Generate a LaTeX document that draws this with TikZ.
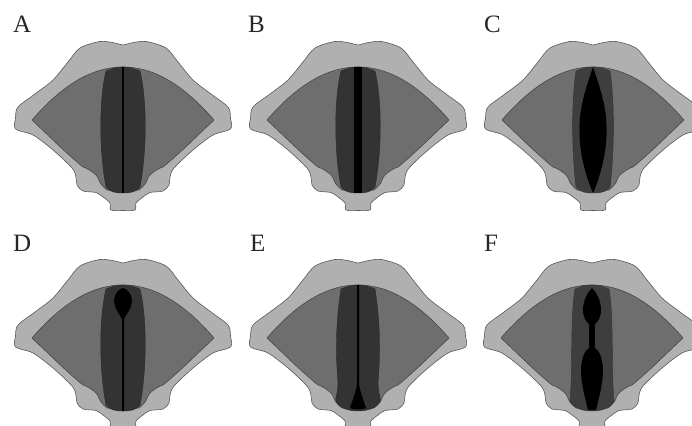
\documentclass[tikz,border=0pt]{standalone}
\usepackage{fontspec}
\setmainfont{Liberation Serif}
\definecolor{outerc}{HTML}{B0B0B0}
\definecolor{wedgec}{HTML}{6E6E6E}
\definecolor{foldc}{HTML}{333333}
\definecolor{foldl}{HTML}{3E3E3E}
\definecolor{linec}{HTML}{5A5A5A}
\tikzset{
  outerpart/.style={fill=outerc,draw=linec,line width=0.6pt},
  wedgepart/.style={fill=wedgec,draw=linec!80!black,line width=0.6pt},
  foldpart/.style={fill=foldc,draw=foldc!80!black,line width=0.4pt},
  foldlight/.style={fill=foldl,draw=foldc,line width=0.4pt},
  gap/.style={fill=black,draw=none},
  letter/.style={anchor=base west,inner sep=0pt,font=\fontsize{25}{25}\selectfont,text=black!85}
}
% #1,#2 shift, #3 contents
\newcommand{\larynx}[3]{%
\begin{scope}[shift={(#1,#2)}]
\draw[outerpart] plot[smooth cycle,tension=0.5] coordinates {
 (0,45) (-8,43) (-23,41.5) (-43,48) (-55,62) (-70,80) (-88,94) (-105,107) (-107.5,118) (-107.5,129)
 (-90,135) (-70,150) (-51,168) (-47,177) (-46,185) (-40,191) (-27,192.5) (-20,197) (-13,203) (-12,210) (0,210.5)
 (12,210) (13,203) (20,197) (27,192.5) (40,191) (46,185) (47,177) (51,168) (70,150) (90,135) (107.5,129) (107.5,118)
 (105,107) (88,94) (70,80) (55,62) (43,48) (23,41.5) (8,43)};
\draw[wedgepart,line join=round] (-91,120) .. controls (-65,90) and (-35,67) .. (0,67)
 .. controls (35,67) and (65,90) .. (91,120)
 .. controls (75,135) and (55,155) .. (40,167)
 .. controls (36,168) and (30,172) .. (27,175)
 .. controls (24,178) and (24,182) .. (22,184)
 .. controls (20,187) and (18,188) .. (16,190) -- (-16,190)
 .. controls (-18,188) and (-20,187) .. (-22,184)
 .. controls (-24,182) and (-24,178) .. (-27,175)
 .. controls (-30,172) and (-36,168) .. (-40,167)
 .. controls (-55,155) and (-75,135) .. (-91,120) -- cycle;
#3
\end{scope}}
% #1 style, #2 control half-width
\newcommand{\vfold}[2]{%
\draw[#1] (-17,71) .. controls (-10,68) and (-5,67) .. (0,67)
 .. controls (5,67) and (10,68) .. (17,71)
 .. controls (#2,100) and (#2,150) .. (17,187)
 .. controls (13,192) and (8,193) .. (0,193)
 .. controls (-8,193) and (-13,192) .. (-17,187)
 .. controls (-#2,150) and (-#2,100) .. (-17,71) -- cycle;}
\begin{document}
\begin{tikzpicture}[x=1pt,y=-1pt]
\useasboundingbox (0,0) rectangle (692,425);
\clip (0,0) rectangle (692,425);
\fill[white] (0,0) rectangle (692,425);
\node[letter] (labelA) at (13,33) {A};
\node[letter] (labelB) at (248,33) {B};
\node[letter] (labelC) at (484,33) {C};
\node[letter] (labelD) at (13,251) {D};
\node[letter] (labelE) at (250,251) {E};
\node[letter] (labelF) at (484,251) {F};
% A
\larynx{123}{0}{\vfold{foldpart}{24}
 \fill[gap] (-1,67) rectangle (1,193);}
% B
\larynx{358}{0}{\vfold{foldpart}{24}
 \fill[gap] (-4.2,67) -- (4.2,67) -- (4.2,192.5) -- (-4.2,192.5) -- cycle;}
% C
\larynx{593}{0}{\vfold{foldlight}{21.5}
 \fill[gap] (0,67) .. controls (8,90) and (14,110) .. (13.5,130)
  .. controls (14,150) and (8,175) .. (0,193)
  .. controls (-8,175) and (-14,150) .. (-13.5,130)
  .. controls (-14,110) and (-8,90) .. (0,67) -- cycle;}
% D
\larynx{123}{218}{\vfold{foldpart}{24}
 \fill[gap] (0,70) .. controls (5,71) and (9,77) .. (9,83)
  .. controls (9,90) and (4,95) .. (1,101) -- (1,193) -- (-1,193) -- (-1,101)
  .. controls (-4,95) and (-9,90) .. (-9,83)
  .. controls (-9,77) and (-5,71) .. (0,70) -- cycle;}
% E
\larynx{358}{218}{
 \draw[foldpart] (-17,71) .. controls (-10,68) and (-5,67) .. (0,67)
  .. controls (5,67) and (10,68) .. (17,71)
  .. controls (23,110) and (22,140) .. (20,165)
  .. controls (20,175) and (23,180) .. (22,184)
  .. controls (17,191) and (8,193) .. (0,193)
  .. controls (-8,193) and (-17,191) .. (-22,184)
  .. controls (-23,180) and (-20,175) .. (-20,165)
  .. controls (-22,140) and (-23,110) .. (-17,71) -- cycle;
 \fill[gap] (-1,67) -- (1,67) -- (1,165) .. controls (2,175) and (6,183) .. (8,190)
  .. controls (5,192) and (-5,192) .. (-8,190)
  .. controls (-6,183) and (-2,175) .. (-1,165) -- cycle;}
% F
\larynx{592}{218}{
 \draw[foldlight] (-17,71) .. controls (-10,68) and (-5,67) .. (0,67)
  .. controls (5,67) and (10,68) .. (17,71)
  .. controls (22,100) and (19,150) .. (22,184)
  .. controls (17,191) and (8,193) .. (0,193)
  .. controls (-8,193) and (-17,191) .. (-22,184)
  .. controls (-19,150) and (-22,100) .. (-17,71) -- cycle;
 \fill[gap] (0,70) .. controls (4,74) and (9,82) .. (9,92)
  .. controls (9,100) and (5,105) .. (2.8,106) -- (2.8,130)
  .. controls (8,133) and (11,142) .. (11,153)
  .. controls (11,165) and (7,180) .. (4,192) -- (-4,192)
  .. controls (-7,180) and (-11,165) .. (-11,153)
  .. controls (-11,142) and (-8,133) .. (-2.8,130) -- (-2.8,106)
  .. controls (-5,105) and (-9,100) .. (-9,92)
  .. controls (-9,82) and (-4,74) .. (0,70) -- cycle;}
\end{tikzpicture}
\end{document}
